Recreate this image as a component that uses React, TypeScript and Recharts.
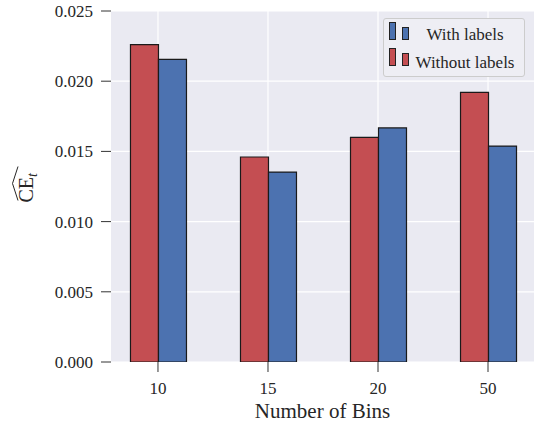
import React from 'react';
import { BarChart, Bar, XAxis, YAxis, CartesianGrid, Legend } from 'recharts';

const bins = ['10', '15', '20', '50'];
const withoutLabels = [0.0226, 0.0146, 0.016, 0.0192];
const withLabels = [0.02156, 0.01353, 0.01667, 0.01538];
const yTicks = [0, 0.005, 0.01, 0.015, 0.02, 0.025];
const xTicks = [0, 1, 2, 3];
const legendOrder = ['With labels', 'Without labels'];

const RED = '#C44E52';
const BLUE = '#4C72B0';
const FONT = '"Liberation Serif", "Times New Roman", serif';
const TEXT = '#262626';

const data = bins.map((b, i) => ({
  idx: i,
  bin: b,
  without: withoutLabels[i],
  with: withLabels[i],
}));

const YLabel = ({ viewBox }: any) => {
  const cx = viewBox.x + 33;
  const cy = viewBox.y + viewBox.height / 2 + 3;
  return (
    <g transform={`translate(${cx}, ${cy}) rotate(-90)`}>
      <path d="M -11 -15 L 6 -20.5 L 23 -15" stroke={TEXT} strokeWidth={1} fill="none" />
      <text x={-13} y={0} fontSize={20} fontFamily={FONT} fill={TEXT}>
        CE
        <tspan fontSize={14} fontStyle="italic" dy={4}>t</tspan>
      </text>
    </g>
  );
};

const XLabel = ({ viewBox }: any) => (
  <text
    x={viewBox.x + viewBox.width / 2}
    y={viewBox.y + 56}
    textAnchor="middle"
    fontSize={21}
    fontFamily={FONT}
    fill={TEXT}
  >
    Number of Bins
  </text>
);

const LegendBox = ({ payload }: any) => {
  const items = [...(payload || [])].sort(
    (a: any, b: any) => legendOrder.indexOf(a.value) - legendOrder.indexOf(b.value)
  );
  return (
    <div
      style={{
        position: 'relative',
        width: 142,
        height: 59,
        background: '#EEEEF4',
        border: '1px solid #CCCCCC',
        borderRadius: 3,
        boxSizing: 'border-box',
        fontFamily: FONT,
        color: TEXT,
      }}
    >
      {items.map((it: any, i: number) => (
        <React.Fragment key={it.value}>
          <div
            style={{
              position: 'absolute', left: 5, top: 3 + i * 26, width: 7, height: 18,
              background: it.color, border: '1px solid #222', boxSizing: 'border-box',
            }}
          />
          <div
            style={{
              position: 'absolute', left: 18, top: 8 + i * 26, width: 7, height: 13,
              background: it.color, border: '1px solid #222', boxSizing: 'border-box',
            }}
          />
          <div
            style={{
              position: 'absolute', left: 26, top: 6 + i * 28, width: 110,
              textAlign: 'center', fontSize: 17, lineHeight: '20px', whiteSpace: 'nowrap',
            }}
          >
            {it.value}
          </div>
        </React.Fragment>
      ))}
    </div>
  );
};

const tickStyle = { fill: TEXT, fontSize: 17, fontFamily: FONT };

export default function App() {
  return (
    <div
      style={{
        position: 'absolute', left: 0, top: 0, width: 534, height: 423,
        background: '#fff', fontFamily: FONT,
      }}
    >
      <BarChart
        width={534}
        height={423}
        data={data}
        margin={{ top: 11, right: 0, bottom: 0, left: 0 }}
        barGap={0}
        barCategoryGap="25%"
        style={{ fontFamily: FONT }}
      >
        <CartesianGrid
          fill="#EAEAF2"
          stroke="#ffffff"
          strokeWidth={1.2}
          horizontalValues={yTicks}
          verticalValues={xTicks}
        />
        <XAxis
          type="number"
          dataKey="idx"
          domain={[-0.427, 3.418]}
          ticks={xTicks}
          allowDataOverflow
          tickFormatter={(v: number) => bins[v]}
          axisLine={false}
          tickSize={10}
          tickMargin={10}
          tickLine={{ stroke: '#333', strokeWidth: 1 }}
          tick={tickStyle}
          height={61}
          label={XLabel}
        />
        <YAxis
          type="number"
          domain={[0, 0.025]}
          ticks={yTicks}
          allowDataOverflow
          tickFormatter={(v: number) => v.toFixed(3)}
          axisLine={false}
          tickSize={10}
          tickMargin={8}
          tickLine={{ stroke: '#333', strokeWidth: 1 }}
          tick={tickStyle}
          width={111}
          label={YLabel}
        />
        <Legend
          layout="horizontal"
          verticalAlign="middle"
          align="center"
          wrapperStyle={{ position: 'absolute', left: 383, top: 18, width: 142, height: 59 }}
          content={LegendBox}
        />
        <Bar dataKey="without" name="Without labels" fill={RED} stroke="#1a1a1a" strokeWidth={1.2} isAnimationActive={false} />
        <Bar dataKey="with" name="With labels" fill={BLUE} stroke="#1a1a1a" strokeWidth={1.2} isAnimationActive={false} />
      </BarChart>
    </div>
  );
}
